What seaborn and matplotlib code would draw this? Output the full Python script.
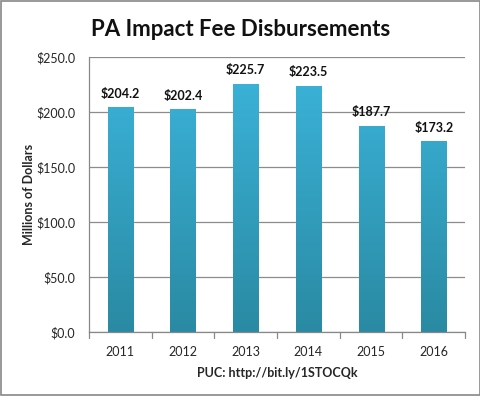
import matplotlib as mpl
import matplotlib.pyplot as plt
import numpy as np
import pandas as pd
import seaborn as sns
from matplotlib.colors import LinearSegmentedColormap
from matplotlib.patches import Rectangle

years = ["2011", "2012", "2013", "2014", "2015", "2016"]
fees = [204.2, 202.4, 225.7, 223.5, 187.7, 173.2]
y_ticks = [0, 50, 100, 150, 200, 250]

sns.set_style("white")
plt.rcParams["font.family"] = ["Lato", "DejaVu Sans"]

df = pd.DataFrame({"year": years, "fee": fees})

fig = plt.figure(figsize=(4.81, 3.96), dpi=100)
ax = fig.add_axes([0.185, 0.162, 0.782, 0.694])

sns.barplot(data=df, x="year", y="fee", ax=ax, width=0.4, color="#36a9cc",
            saturation=1, edgecolor="none")

# vertical gradient fill clipped to each bar
cmap = LinearSegmentedColormap.from_list("bar", ["#2a8aa3", "#3cb5dc"])
grad = np.linspace(0, 1, 256).reshape(-1, 1)
for bar in list(ax.patches):
    x0, w, h = bar.get_x(), bar.get_width(), bar.get_height()
    bar.set_facecolor("none")
    im = ax.imshow(grad, cmap=cmap, origin="lower", aspect="auto",
                   extent=(x0, x0 + w, 0, 250), zorder=2)
    im.set_clip_path(Rectangle((x0, 0), w, h, transform=ax.transData))
ax.set_xlim(-0.5, len(years) - 0.5)
ax.set_ylim(0, 250)

for i, v in enumerate(fees):
    ax.text(i, v + 7, f"${v:.1f}", ha="center", va="bottom",
            fontsize=9, fontweight="bold", color="#111111")

ax.set_yticks(y_ticks)
ax.set_yticklabels([f"${t:.1f}" for t in y_ticks], fontsize=9)
ax.set_xticks(range(len(years)))
ax.set_xticklabels(years, fontsize=9)
ax.tick_params(axis="x", length=0, pad=10)
ax.tick_params(axis="y", length=4, direction="out", color="#888888", pad=6)
ax.set_axisbelow(True)
ax.yaxis.grid(True, color="#8c8c8c", linewidth=0.9)

# tick marks between categories on x axis
for k in range(len(years) + 1):
    ax.plot([k - 0.5, k - 0.5], [0, -6], color="#888888", linewidth=0.9,
            clip_on=False, zorder=1)

for side in ["top", "right"]:
    ax.spines[side].set_visible(False)
for side in ["left", "bottom"]:
    ax.spines[side].set_color("#888888")
    ax.spines[side].set_linewidth(0.9)

ax.set_ylabel("Millions of Dollars", fontsize=9, fontweight="bold", labelpad=1)
ax.set_xlabel("PUC: http://bit.ly/1STOCQk", fontsize=9, fontweight="bold", labelpad=7)

fig.text(0.5, 0.925, "PA Impact Fee Disbursements", ha="center", va="center",
         fontsize=16, fontweight="bold", color="#111111")

fig.patches.append(Rectangle((0.002, 0.002), 0.996, 0.996, transform=fig.transFigure,
                             fill=False, edgecolor="#888888", linewidth=1.2))

fig.savefig("out.png", dpi=100)
